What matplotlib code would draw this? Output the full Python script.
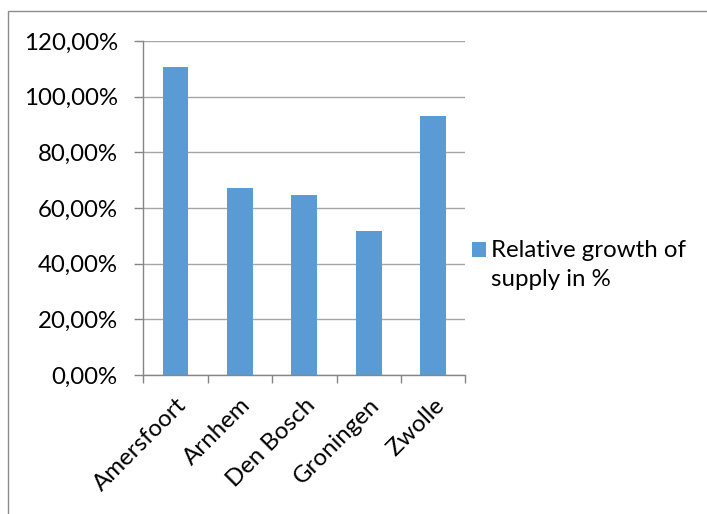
import matplotlib.pyplot as plt
from matplotlib.patches import Rectangle
from matplotlib.ticker import FuncFormatter, FixedLocator
from matplotlib.transforms import ScaledTranslation

cities = ["Amersfoort", "Arnhem", "Den Bosch", "Groningen", "Zwolle"]
growth = [110.7, 67.3, 64.7, 51.7, 93.0]
legend_label = "Relative growth of\nsupply in %"

W, H = 707, 514
plt.rcParams['font.family'] = ['Lato', 'DejaVu Sans']
fs = 17.3

fig = plt.figure(figsize=(W / 100, H / 100), dpi=100)
ax = fig.add_axes([143.4 / W, 1 - 375 / H, (465.3 - 143.4) / W, (375 - 41) / H])

bar_color = "#5b9bd5"
ax.bar(range(len(cities)), growth, width=0.4, color=bar_color, zorder=2)

ax.set_xlim(-0.5, len(cities) - 0.5)
ax.set_ylim(0, 120)
ax.set_yticks(range(0, 121, 20))
ax.yaxis.set_major_formatter(FuncFormatter(lambda v, p: f"{v:.2f}%".replace(".", ",")))
ax.grid(axis="y", color="#a6a6a6", linewidth=1.0, zorder=0)

ax.set_xticks(range(len(cities)))
ax.set_xticklabels(cities, rotation=45, ha="right", va="top", rotation_mode="anchor")
ax.xaxis.set_minor_locator(FixedLocator([i - 0.5 for i in range(len(cities) + 1)]))
shift = ScaledTranslation(-5 / 100, -2 / 100, fig.dpi_scale_trans)
for lbl in ax.get_xticklabels():
    lbl.set_transform(lbl.get_transform() + shift)

for s in ["top", "right"]:
    ax.spines[s].set_visible(False)
for s in ["left", "bottom"]:
    ax.spines[s].set_color("#868686")
    ax.spines[s].set_linewidth(1.0)

ax.tick_params(axis="y", length=6.5, width=1.0, color="#868686", pad=12, labelsize=fs)
ax.tick_params(axis="x", which="major", length=0, pad=14, labelsize=fs)
ax.tick_params(axis="x", which="minor", length=6, width=1.0, color="#868686")

# legend box drawn by hand so the swatch sits on the first text line
fig.patches.append(Rectangle((471.7 / W, 1 - 257.3 / H), 14 / W, 15 / H,
                             transform=fig.transFigure, facecolor=bar_color,
                             edgecolor="none"))
fig.text(491 / W, 1 - 240 / H, legend_label, fontsize=fs, va="top",
         ha="left", linespacing=1.5)

# chart area frame
fig.patches.append(Rectangle((8 / W, -0.1), 1.2, 1.1 - 11 / H,
                             transform=fig.transFigure, facecolor="none",
                             edgecolor="#8c8c8c", linewidth=1.0))

fig.savefig("out.png", dpi=100)
